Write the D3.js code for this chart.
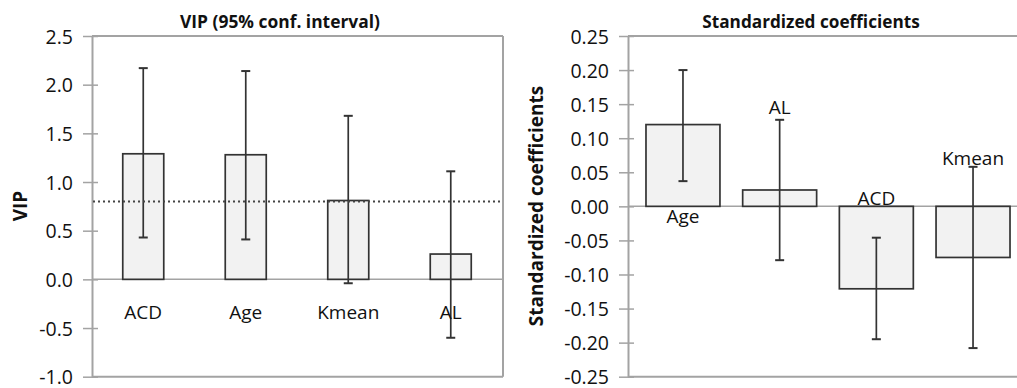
<!DOCTYPE html>
<html><head><meta charset="utf-8">
<script src="https://cdn.jsdelivr.net/npm/d3@7"></script>
<style>body{margin:0;background:#fff}svg{display:block}text{font-family:"Open Sans",sans-serif;fill:#111}</style>
</head><body><svg id="c" width="1017" height="388"></svg>
<script>
// ---- data ----
const vipCats = ["ACD","Age","Kmean","AL"];
const vipValues = [1.29, 1.28, 0.81, 0.26];
const vipLow = [0.43, 0.41, -0.04, -0.60];
const vipHigh = [2.17, 2.14, 1.68, 1.11];
const vipThreshold = 0.8;
const vipTicks = [-1.0,-0.5,0.0,0.5,1.0,1.5,2.0,2.5];

const coefCats = ["Age","AL","ACD","Kmean"];
const coefValues = [0.120, 0.024, -0.121, -0.075];
const coefLow = [0.037, -0.079, -0.195, -0.208];
const coefHigh = [0.200, 0.127, -0.046, 0.058];
const coefTicks = [-0.25,-0.20,-0.15,-0.10,-0.05,0.00,0.05,0.10,0.15,0.20,0.25];

const svg = d3.select("#c");
const gridCol = "#a3a3a3", barStroke = "#333", errCol = "#333";
const hyph = f => v => f(v).replace("\u2212","-");

function panel(o){
  const g = svg.append("g");
  const x = d3.scaleBand().domain(o.cats).range([o.x0, o.x1]).paddingInner(o.pi).paddingOuter(o.po);
  const y = d3.scaleLinear().domain(o.dom).range([376.7, 36]);
  // frame
  g.append("line").attr("x1",o.left).attr("x2",o.frameR).attr("y1",y(o.dom[1])).attr("y2",y(o.dom[1])).attr("stroke",gridCol).attr("stroke-width",2);
  g.append("line").attr("x1",o.left).attr("x2",o.frameR).attr("y1",y(o.dom[0])).attr("y2",y(o.dom[0])).attr("stroke",gridCol).attr("stroke-width",2);
  if(o.rightBorder) g.append("line").attr("x1",o.frameR).attr("x2",o.frameR).attr("y1",y(o.dom[1])).attr("y2",y(o.dom[0])).attr("stroke",gridCol).attr("stroke-width",2);
  // zero line
  g.append("line").attr("x1",o.left).attr("x2",o.frameR).attr("y1",y(0)).attr("y2",y(0)).attr("stroke",gridCol).attr("stroke-width",1.5);
  // axis
  const ax = g.append("g").attr("transform",`translate(${o.left},0)`)
    .call(d3.axisLeft(y).tickValues(o.ticks).tickFormat(hyph(o.fmt)).tickSizeInner(9).tickSizeOuter(0).tickPadding(10));
  ax.select(".domain").attr("stroke",gridCol).attr("stroke-width",2);
  ax.selectAll(".tick line").attr("stroke",gridCol).attr("stroke-width",1.5).attr("x2",-9).attr("x1",6);
  ax.selectAll(".tick text").attr("font-size",19.5).attr("fill","#111").attr("font-family","Open Sans").attr("dy","0.36em");
  // bars
  g.selectAll("rect.bar").data(o.cats).join("rect")
    .attr("x",d=>x(d)).attr("width",x.bandwidth())
    .attr("y",(d,i)=>y(Math.max(0,o.vals[i]))).attr("height",(d,i)=>Math.abs(y(o.vals[i])-y(0)))
    .attr("fill","#f2f2f2").attr("stroke",barStroke).attr("stroke-width",1.7);
  // error bars
  o.cats.forEach((d,i)=>{
    const cx = x(d)+x.bandwidth()/2;
    g.append("line").attr("x1",cx).attr("x2",cx).attr("y1",y(o.lo[i])).attr("y2",y(o.hi[i])).attr("stroke",errCol).attr("stroke-width",1.7);
    [o.lo[i],o.hi[i]].forEach(v=>g.append("line").attr("x1",cx-4.5).attr("x2",cx+4.5).attr("y1",y(v)).attr("y2",y(v)).attr("stroke",errCol).attr("stroke-width",2));
  });
  // category labels
  o.cats.forEach((d,i)=>{
    g.append("text").attr("x",x(d)+x.bandwidth()/2).attr("y",y(o.labelAt[i])).attr("text-anchor","middle").attr("font-size",19).text(d);
  });
  // title
  g.append("text").attr("x",o.titleX).attr("y",28).attr("text-anchor","middle").attr("font-size",o.titleSize).attr("font-weight","bold").text(o.title);
  // y label
  g.append("text").attr("transform",`translate(${o.ylabX},206) rotate(-90)`).attr("text-anchor","middle").attr("font-size",19).attr("font-weight","bold").text(o.ylab);
  return {g,x,y};
}

const p1 = panel({cats:vipCats, vals:vipValues, lo:vipLow, hi:vipHigh, dom:[-1,2.5], ticks:vipTicks, fmt:d3.format(".1f"),
  x0:92, x1:502, pi:0.6, po:0.3, left:92, frameR:503, rightBorder:true,
  labelAt:[-0.41,-0.41,-0.41,-0.41], title:"VIP (95% conf. interval)", titleSize:17.4, titleX:280, ylab:"VIP", ylabX:27});
p1.g.append("line").attr("x1",93).attr("x2",502).attr("y1",p1.y(vipThreshold)).attr("y2",p1.y(vipThreshold))
  .attr("stroke","#444").attr("stroke-width",2).attr("stroke-dasharray","2,3");

const p2 = panel({cats:coefCats, vals:coefValues, lo:coefLow, hi:coefHigh, dom:[-0.25,0.25], ticks:coefTicks, fmt:d3.format(".2f"),
  x0:628, x1:1028, pi:0.235, po:0.186, left:628, frameR:1030, rightBorder:false,
  labelAt:[-0.024,0.136,0.002,0.061], title:"Standardized coefficients", titleSize:17.2, titleX:811, ylab:"Standardized coefficients", ylabX:543});
</script></body></html>
